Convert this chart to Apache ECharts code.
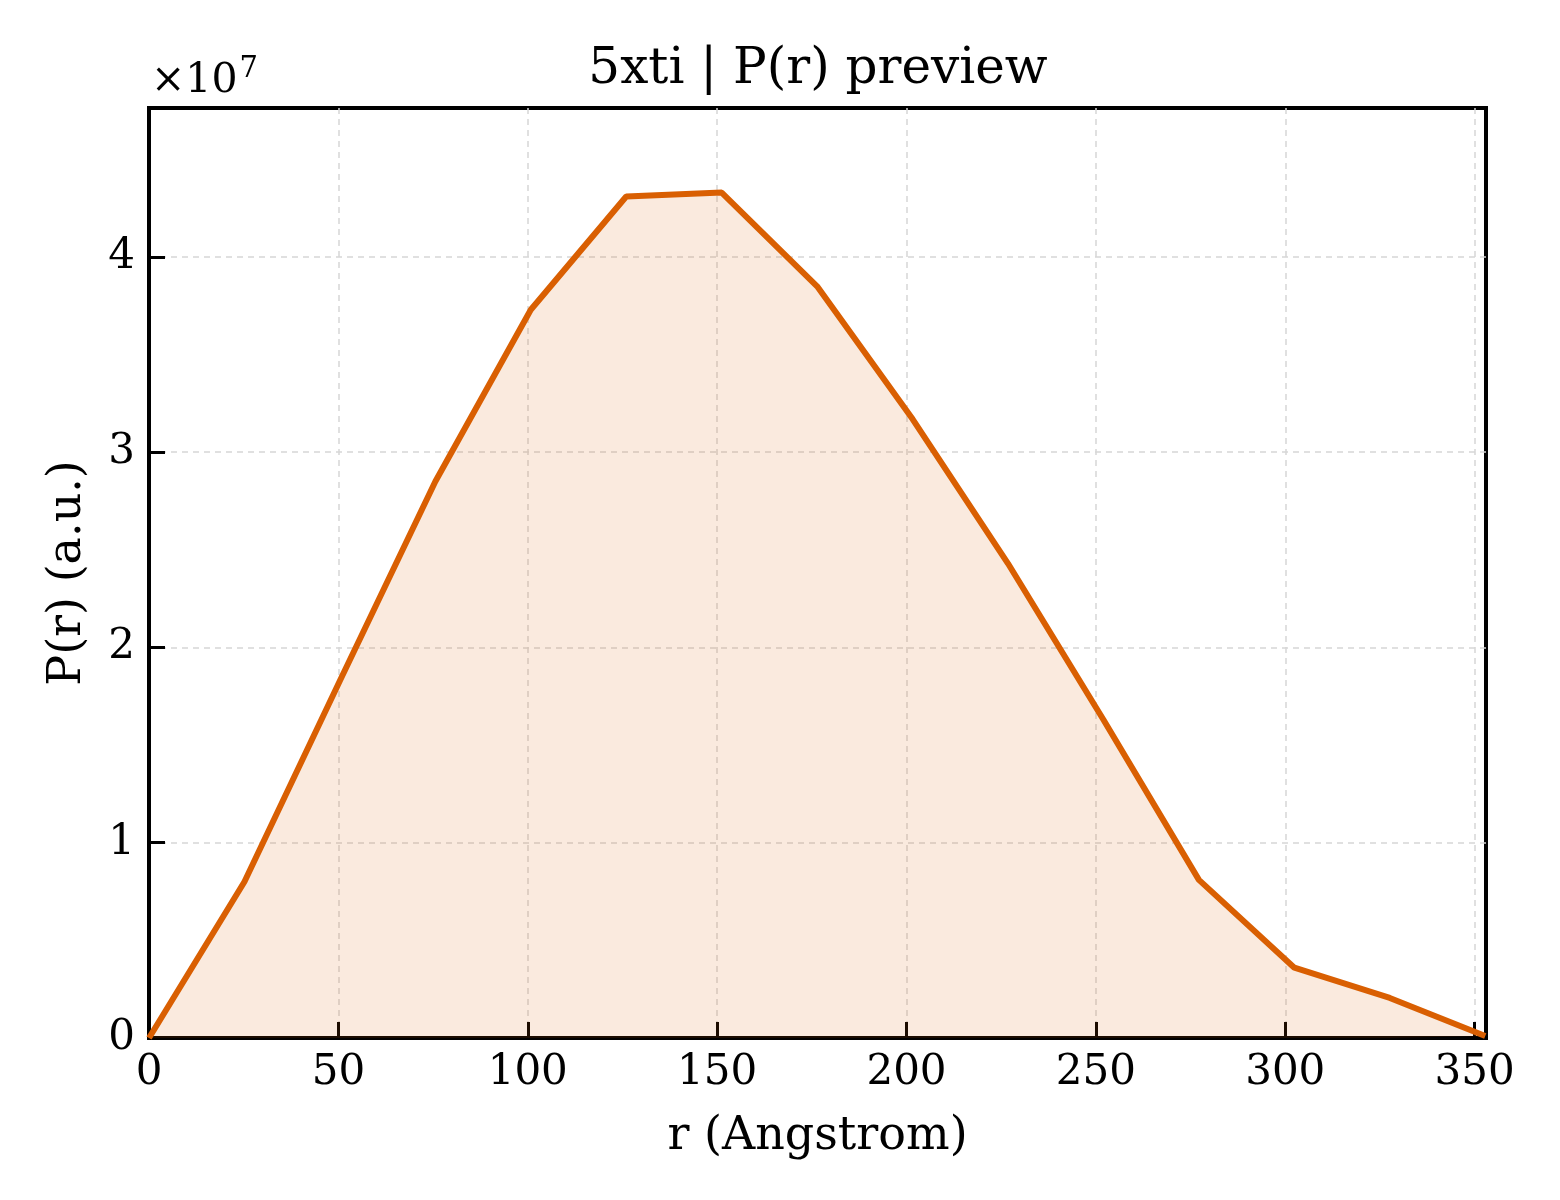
<!DOCTYPE html>
<html>
<head>
<meta charset="utf-8">
<script src="https://cdn.jsdelivr.net/npm/echarts@6/dist/echarts.min.js"></script>
<style>
  html, body { margin: 0; padding: 0; background: #fff; }
  #chart { width: 1560px; height: 1200px; }
</style>
</head>
<body>
<div id="chart"></div>
<script>
// r in Angstrom, P(r) in arbitrary units
var rValues = [0, 25.2, 50.4, 75.6, 100.8, 126, 151.2, 176.4, 201.6, 226.8, 252, 277.2, 302.4, 327.6, 352.8];
var pValues = [0, 0.80e7, 1.83e7, 2.85e7, 3.73e7, 4.31e7, 4.33e7, 3.85e7, 3.17e7, 2.43e7, 1.63e7, 0.81e7, 0.36e7, 0.205e7, 0.01e7];
var xTicks = [0, 50, 100, 150, 200, 250, 300, 350];
var yTicks = [0, 1, 2, 3, 4];

var fontFam = '"DejaVu Serif", "Liberation Serif", serif';
var lineColor = '#d95f02';

var points = [];
for (var i = 0; i < rValues.length; i++) {
  points.push([rValues[i], pValues[i]]);
}

// dashed light grid, no lines on the frame itself
var gridLine = { show: true, showMinLine: false, showMaxLine: false, lineStyle: { color: '#d6d6d6', width: 1.5, type: [6, 5] } };

var myChart = echarts.init(document.getElementById('chart'));
var option = {
  backgroundColor: '#ffffff',
  animation: false,
  title: {
    text: '5xti | P(r) preview',
    left: 813,
    top: 40,
    textAlign: 'center',
    textStyle: { fontFamily: fontFam, fontSize: 50, fontWeight: 'normal', color: '#000' }
  },
  grid: {   //plot area
    left: 149,
    right: 74,
    top: 108,
    bottom: 162,
    show: true,
    borderColor: '#000',
    borderWidth: 4,
    backgroundColor: 'transparent'
  },
  graphic: [
    {
      type: 'text',
      left: 151,
      top: 55,
      style: {
        text: '{a|×10}{b|7}',
        rich: {
          a: { fontFamily: fontFam, fontSize: 41, fill: '#000', verticalAlign: 'bottom' },
          b: { fontFamily: fontFam, fontSize: 29, fill: '#000', verticalAlign: 'top', padding: [0, 0, 18, 2] }
        }
      }
    }
  ],
  xAxis: {
    type: 'value',
    min: 0,
    max: 353,
    interval: 50,
    name: 'r (Angstrom)',
    nameLocation: 'middle',
    nameGap: 76,
    nameTextStyle: { fontFamily: fontFam, fontSize: 46, color: '#000' },
    axisLine: { show: true, lineStyle: { color: '#000', width: 4 } },
    axisTick: { show: true, inside: true, length: 16, lineStyle: { color: '#000', width: 3 } },
    axisLabel: {
      margin: 14,
      fontFamily: fontFam, fontSize: 42, color: '#000',
      formatter: function (v) { return xTicks.indexOf(v) >= 0 ? String(v) : ''; }
    },
    splitLine: gridLine
  },
  yAxis: {
    type: 'value',
    min: 0,
    max: 4.763e7,
    interval: 1e7,
    name: 'P(r) (a.u.)',
    nameLocation: 'middle',
    nameGap: 58,
    nameTextStyle: { fontFamily: fontFam, fontSize: 46, color: '#000' },
    axisLine: { show: true, lineStyle: { color: '#000', width: 4 } },
    axisTick: { show: true, inside: true, length: 16, lineStyle: { color: '#000', width: 3 } },
    axisLabel: {
      margin: 14,
      fontFamily: fontFam, fontSize: 42, color: '#000',
      formatter: function (v) {
        var t = Math.round(v / 1e7 * 1000) / 1000;
        return yTicks.indexOf(t) >= 0 ? String(t) : '';
      }
    },
    splitLine: gridLine
  },
  series: [
    {
      name: 'P(r)',
      type: 'line',
      data: points,
      showSymbol: false,
      symbol: 'none',
      clip: true,
      lineStyle: { color: lineColor, width: 6 },
      areaStyle: { color: lineColor, opacity: 0.13 },
      z: 3
    }
  ]
};
myChart.setOption(option);
</script>
</body>
</html>
